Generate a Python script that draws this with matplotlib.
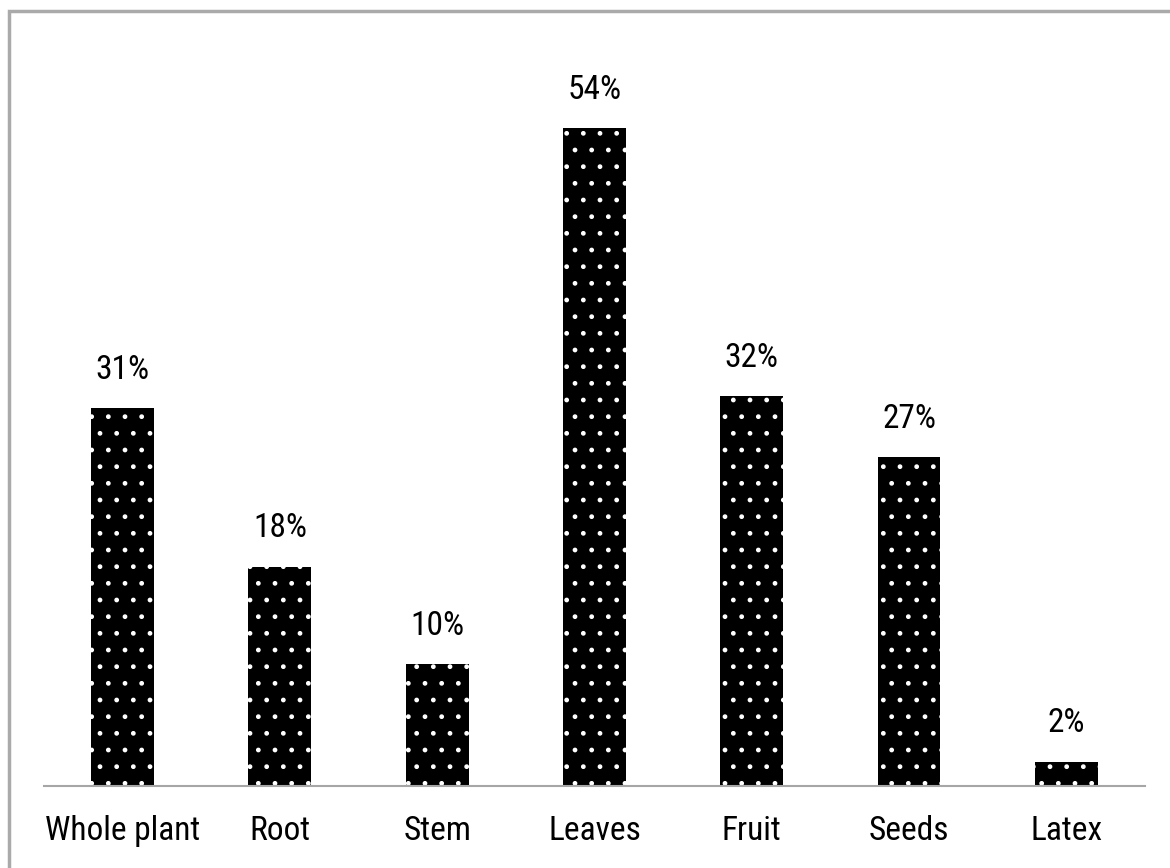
import matplotlib
matplotlib.use("Agg")
import matplotlib.pyplot as plt
from matplotlib.patches import Rectangle

# data
parts = ["Whole plant", "Root", "Stem", "Leaves", "Fruit", "Seeds", "Latex"]
shares = [31, 18, 10, 54, 32, 27, 2]

plt.rcParams["font.family"] = ["Roboto Condensed", "Liberation Sans", "DejaVu Sans"]
plt.rcParams["hatch.linewidth"] = 1.0

fig = plt.figure(figsize=(11.7, 8.68), dpi=100)
ax = fig.add_axes([0.0376, 0.0945, 0.941, 0.859])

x = list(range(len(parts)))
# black bars, then a white dotted hatch over them
ax.bar(x, shares, width=0.4, color="black", linewidth=0)
ax.bar(x, shares, width=0.4, facecolor="none", edgecolor="white",
       hatch=".", linewidth=0)

for xi, v in zip(x, shares):
    ax.annotate(f"{v}%", (xi, v), xytext=(0, 16), textcoords="offset points",
                ha="center", va="bottom", fontsize=24)

ax.set_xlim(-0.5, len(parts) - 0.5)
ax.set_ylim(0, 61.2)
ax.set_xticks(x)
ax.set_xticklabels(parts, fontsize=24)
ax.tick_params(axis="x", length=0, pad=21)
ax.set_yticks([])
for s in ["top", "left", "right"]:
    ax.spines[s].set_visible(False)
ax.spines["bottom"].set_color("#a6a6a6")
ax.spines["bottom"].set_linewidth(1.5)

# gray frame, cut off at right and bottom like the source image
fig.patches.append(Rectangle((9 / 1170, -0.1), 1.2, 1 - 11.5 / 868 + 0.1,
                             transform=fig.transFigure, fill=False,
                             edgecolor="#aaaaaa", linewidth=2.5))

fig.savefig("out.png", dpi=100)
